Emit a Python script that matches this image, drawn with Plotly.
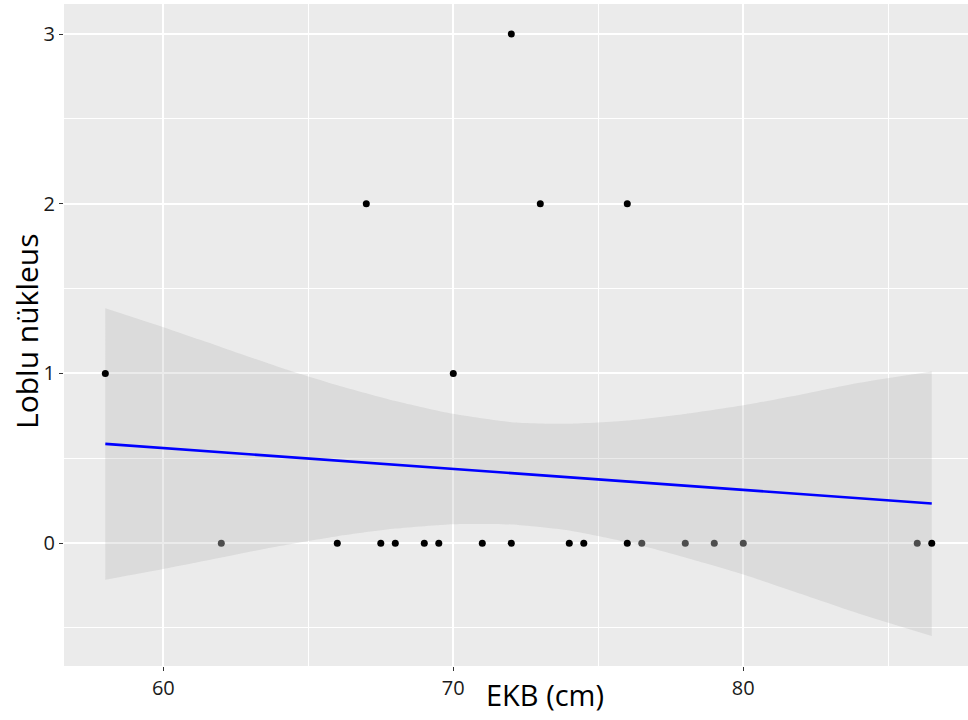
import plotly.graph_objects as go

# Scatter data (EKB in cm, lobulated nuclei count); n_obs = overlapping observations
ekb = [58, 62, 66, 67, 67.5, 68, 69, 69.5, 70, 71, 72, 72, 73, 74, 74.5,
       76, 76, 76.5, 78, 79, 80, 86, 86.5]
loblu = [1, 0, 0, 2, 0, 0, 0, 0, 1, 0, 0, 3, 2, 0, 0,
         0, 2, 0, 0, 0, 0, 0, 0]
n_obs = [2, 1, 2, 2, 2, 2, 2, 2, 2, 2, 2, 2, 2, 2, 2,
         2, 2, 1, 1, 1, 1, 1, 2]

# Linear fit line and its confidence band
fit_x = [58, 86.5]
fit_y = [0.585, 0.234]
band_x = [58, 60, 62, 64, 66, 68, 70, 72, 74, 76, 78, 80, 82, 84, 86.5]
band_upper = [1.384, 1.272, 1.155, 1.037, 0.931, 0.838, 0.762, 0.713, 0.703,
              0.722, 0.761, 0.812, 0.876, 0.945, 1.012]
band_lower = [-0.216, -0.153, -0.085, -0.017, 0.041, 0.086, 0.112, 0.110, 0.075,
              0.006, -0.085, -0.185, -0.300, -0.416, -0.547]

x_ticks = [60, 70, 80]
y_ticks = [0, 1, 2, 3]

fig = go.Figure()

fig.add_trace(go.Scatter(
    x=band_x, y=band_lower, mode="lines",
    line=dict(width=0, shape="spline", smoothing=0.6),
    hoverinfo="skip", showlegend=False))
fig.add_trace(go.Scatter(
    x=band_x, y=band_upper, mode="lines", fill="tonexty",
    fillcolor="rgba(153,153,153,0.2)",
    line=dict(width=0, shape="spline", smoothing=0.6),
    hoverinfo="skip", showlegend=False))

fig.add_trace(go.Scatter(
    x=ekb, y=loblu, mode="markers",
    marker=dict(size=7, color=["#000000" if n > 1 else "#4d4d4d" for n in n_obs]),
    showlegend=False))

fig.add_trace(go.Scatter(
    x=fit_x, y=fit_y, mode="lines",
    line=dict(color="#0000ff", width=2.6), showlegend=False))

axis_common = dict(
    showline=False, zeroline=False,
    gridcolor="white", gridwidth=1.6,
    ticks="outside", ticklen=4, tickcolor="#333333", tickwidth=1,
    tickfont=dict(family="Open Sans", size=20, color="#1a1a1a"),
)

fig.update_layout(
    width=968, height=720,
    margin=dict(l=64, r=0, t=4, b=54),
    paper_bgcolor="white", plot_bgcolor="#EBEBEB",
    xaxis=dict(range=[56.575, 87.75], tickvals=x_ticks,
               ticktext=[str(v) for v in x_ticks],
               minor=dict(tickvals=[65, 75, 85], showgrid=True,
                          gridcolor="white", gridwidth=0.7),
               **axis_common),
    yaxis=dict(range=[-0.724, 3.177], tickvals=y_ticks,
               ticktext=[str(v) for v in y_ticks],
               minor=dict(tickvals=[-0.5, 0.5, 1.5, 2.5], showgrid=True,
                          gridcolor="white", gridwidth=0.7),
               **axis_common),
    annotations=[
        dict(text="EKB (cm)", xref="paper", yref="paper",
             x=(545 - 64) / 904, y=-(695 - 666) / 662,
             xanchor="center", yanchor="middle", showarrow=False,
             font=dict(family="Open Sans", size=29, color="#000000")),
        dict(text="Loblu nükleus", xref="paper", yref="paper",
             x=-(64 - 26) / 904, y=(666 - 331) / 662, textangle=-90,
             xanchor="center", yanchor="middle", showarrow=False,
             font=dict(family="Open Sans", size=30, color="#000000")),
    ],
)

fig.write_html("out.html")
